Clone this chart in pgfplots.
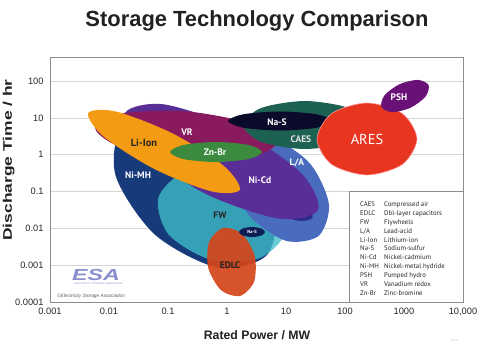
\documentclass[border=0pt]{standalone}
\usepackage{pgfplots}
\pgfplotsset{compat=1.18}
\usepackage{fontspec}
\setmainfont{Liberation Sans}
\newfontfamily\lblfont{PT Sans}
\definecolor{cNiMH}{HTML}{173A7A}
\definecolor{cFW}{HTML}{40BEC8}
\definecolor{cLA}{HTML}{4A6CBF}
\definecolor{cBand}{HTML}{2E2B8C}
\definecolor{cNiCd}{HTML}{5A2E97}
\definecolor{cVR}{HTML}{8A1A5E}
\definecolor{cLi}{HTML}{F39B13}
\definecolor{cZn}{HTML}{3B8A3E}
\definecolor{cCAES}{HTML}{1D6152}
\definecolor{cNaS}{HTML}{0A0A2A}
\definecolor{cARES}{HTML}{E8351F}
\definecolor{cPSH}{HTML}{6A1178}
\definecolor{cEDLC}{HTML}{D4461A}
\definecolor{cNaS2}{HTML}{0E1D55}
\definecolor{cESA}{HTML}{8A8ECF}
\begin{document}
\begin{tikzpicture}[lbl/.style={font=\lblfont\bfseries\fontsize{9.5}{10}\selectfont, text=white}]
\path[use as bounding box] (-50bp,-49bp) rectangle (443bp,302bp);
\begin{axis}[
  at={(0,0)}, anchor=south west,
  scale only axis, width=413bp, height=245bp,
  xmin=-3, xmax=4, ymin=-4, ymax=2.658,
  axis line style={draw=black!45, line width=0.8bp},
  xtick={-3,...,4}, xticklabels={\mbox{0.001},\mbox{0.01},\mbox{0.1},\mbox{1},\mbox{10},\mbox{100},\mbox{1000},\mbox{10,000}},
  ytick={-4,...,2}, yticklabels={\mbox{0.0001},\mbox{0.001},\mbox{0.01},\mbox{0.1},\mbox{1},\mbox{10},\mbox{100}},
  ymajorgrids, grid style={draw=black!17, line width=0.9bp},
  major tick length=0pt,
  tick label style={font=\fontsize{9.3}{11}\selectfont, text=black!85},
  xticklabel style={yshift=-3bp},
  yticklabel style={xshift=-3bp},
]
% Ni-MH
\addplot[draw=none, fill=cNiMH, smooth cycle] coordinates {(0.679,-2.720) (0.803,-1.347) (0.138,0.255) (-0.925,1.148) (-1.764,0.807) (-1.888,-0.566) (-1.223,-2.168) (-0.160,-3.061)};
% FW
\addplot[draw=none, fill=cFW, fill opacity=0.78, smooth cycle] coordinates {(0.996,-2.100) (0.822,-1.110) (0.117,-0.429) (-0.706,-0.454) (-1.165,-1.172) (-0.991,-2.162) (-0.286,-2.843) (0.537,-2.818)};
% L/A
\addplot[draw=none, fill=cLA, smooth cycle] coordinates {(1.552,-2.205) (1.728,-1.346) (1.418,-0.258) (0.803,0.421) (0.245,0.292) (0.069,-0.567) (0.379,-1.655) (0.993,-2.334)};
% band
\addplot[draw=none, fill=cBand, smooth cycle] coordinates {(1.445,-1.721) (1.350,-1.255) (0.910,-0.646) (0.385,-0.251) (0.080,-0.301) (0.176,-0.766) (0.615,-1.376) (1.141,-1.771)};
% Ni-Cd
\addplot[draw=none, fill=cNiCd, smooth cycle] coordinates {(1.542,-1.501) (1.257,-0.497) (0.181,0.692) (-1.056,1.368) (-1.729,1.136) (-1.443,0.132) (-0.367,-1.056) (0.869,-1.732)};
% VR
\addplot[draw=none, fill=cVR, smooth cycle] coordinates {(0.842,0.322) (0.416,0.841) (-0.662,1.175) (-1.758,1.127) (-2.232,0.727) (-1.805,0.208) (-0.728,-0.126) (0.369,-0.078)};
% Li-Ion
\addplot[draw=none, fill=cLi, smooth cycle] coordinates {(0.217,-0.955) (-0.051,-0.306) (-0.914,0.574) (-1.868,1.171) (-2.353,1.135) (-2.085,0.486) (-1.221,-0.395) (-0.268,-0.992)};
% Zn-Br
\addplot[draw=none, fill=cZn, smooth cycle] coordinates {(0.593,0.076) (0.365,0.268) (-0.186,0.348) (-0.738,0.268) (-0.966,0.076) (-0.738,-0.116) (-0.186,-0.196) (0.365,-0.116)};
% CAES
\addplot[draw=none, fill=cCAES, smooth cycle] coordinates {(2.373,0.810) (2.065,1.271) (1.322,1.462) (0.579,1.271) (0.271,0.810) (0.579,0.349) (1.322,0.158) (2.065,0.349)};
% Na-S
\addplot[draw=none, fill=cNaS, smooth cycle] coordinates {(1.780,0.918) (1.522,1.101) (0.898,1.177) (0.275,1.101) (0.017,0.918) (0.275,0.736) (0.898,0.660) (1.522,0.736)};
% ARES
\addplot[draw=red!40!white, line width=0.6bp, fill=cARES, smooth cycle] coordinates {(3.220,0.429) (2.972,1.121) (2.373,1.408) (1.774,1.121) (1.525,0.429) (1.774,-0.262) (2.373,-0.549) (2.972,-0.262)};
% PSH
\addplot[draw=none, fill=cPSH, smooth cycle] coordinates {(3.416,1.896) (3.234,2.035) (2.924,1.918) (2.669,1.613) (2.618,1.299) (2.800,1.160) (3.110,1.278) (3.365,1.583)};
% EDLC
\addplot[draw=none, fill=cEDLC, fill opacity=0.93, smooth cycle] coordinates {(-0.067,-1.990) (-0.304,-2.372) (-0.318,-3.071) (-0.101,-3.677) (0.220,-3.836) (0.457,-3.454) (0.471,-2.755) (0.254,-2.149)};
% Na-S small
\addplot[draw=none, fill=cNaS2, smooth cycle] coordinates {(0.644,-2.098) (0.579,-2.002) (0.424,-1.962) (0.268,-2.002) (0.203,-2.098) (0.268,-2.194) (0.424,-2.234) (0.579,-2.194)};

\node[lbl, text=black!85, font=\lblfont\bfseries\fontsize{10.5}{11}\selectfont] at (axis cs:-1.407,0.321) {Li-Ion};
\node[lbl] at (axis cs:-0.678,0.620) {VR};
\node[lbl] at (axis cs:-0.203,0.076) {Zn-Br};
\node[lbl] at (axis cs:-1.508,-0.549) {Ni-MH};
\node[lbl] at (axis cs:0.559,-0.685) {Ni-Cd};
\node[lbl] at (axis cs:1.186,-0.223) {L/A};
\node[lbl, text=black!85] at (axis cs:-0.119,-1.636) {FW};
\node[lbl, text=black!85] at (axis cs:0.051,-2.995) {EDLC};
\node[lbl, font=\lblfont\bfseries\fontsize{4.6}{5}\selectfont] at (axis cs:0.424,-2.098) {Na-S};
\node[lbl, text=black!10] at (axis cs:1.254,0.429) {CAES};
\node[lbl] at (axis cs:0.847,0.889) {Na-S};
\node[lbl, font=\lblfont\fontsize{14.5}{15}\selectfont] at (axis cs:2.373,0.429) {ARES};
\node[lbl] at (axis cs:2.915,1.571) {PSH};

\draw[black!45, line width=0.8bp, fill=white] (axis cs:2.068,-0.984) rectangle (axis cs:4,-4);
\end{axis}

% legend text
\node[anchor=north west, inner sep=0pt, text=black!85, font=\lblfont\fontsize{6.8}{8.9}\selectfont] at (310bp,101.8bp) {%
\begin{tabular}{@{}p{24bp}@{}l@{}}
CAES & Compressed air\\
EDLC & Dbl-layer capacitors\\
FW & Flywheels\\
L/A & Lead-acid\\
Li-Ion & Lithium-ion\\
Na-S & Sodium-sulfur\\
Ni-Cd & Nickel-cadmium\\
Ni-MH & Nickel-metal hydride\\
PSH & Pumped hydro\\
VR & Vanadium redox\\
Zn-Br & Zinc-bromine
\end{tabular}};

% title and axis labels
\node[anchor=base, inner sep=0pt, text=black!87, font=\bfseries\fontsize{22}{24}\selectfont] at (207bp,275bp) {Storage Technology Comparison};
\node[anchor=base, inner sep=0pt, text=black!87, font=\bfseries\fontsize{12.3}{14}\selectfont] at (207bp,-37.3bp) {Rated Power / MW};
\node[anchor=base, inner sep=0pt, rotate=90, text=black!87, font=\bfseries\fontsize{12.5}{14}\selectfont] at (-38.2bp,142bp) {\scalebox{1.4}[1]{Discharge Time / hr}};

% ESA logo text
\node[anchor=base west, inner sep=0pt, text=cESA, font=\bfseries\itshape\fontsize{16}{16}\selectfont] at (22bp,22bp) {\scalebox{1.45}[1]{ESA}};
\node[anchor=base west, inner sep=0pt, text=cESA, font=\fontsize{2.6}{3}\selectfont] at (24bp,17.5bp) {ELECTRICITY STORAGE ASSOCIATION};
\node[anchor=base west, inner sep=0pt, text=black!65, font=\itshape\fontsize{4.8}{5}\selectfont] at (7bp,4.5bp) {\textcopyright Electricity Storage Association};
\node[anchor=base, inner sep=0pt, text=black!25, font=\fontsize{2.8}{3}\selectfont] at (405bp,-39bp) {08111};
\end{tikzpicture}
\end{document}
